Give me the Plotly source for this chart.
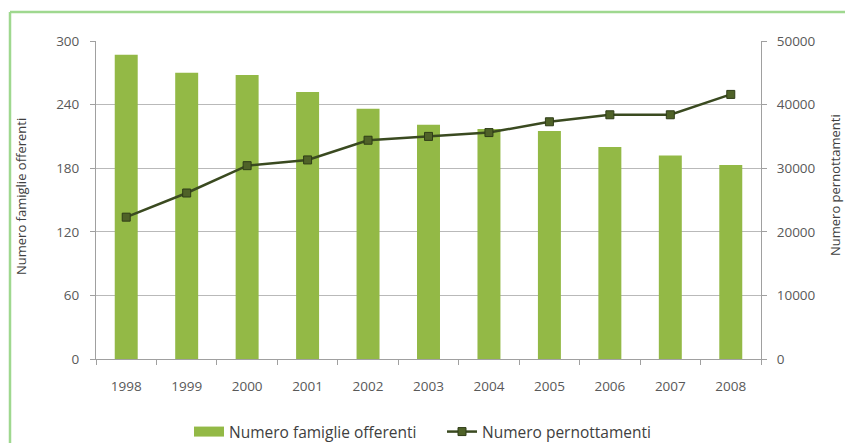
import plotly.graph_objects as go

years = ["1998", "1999", "2000", "2001", "2002", "2003", "2004", "2005", "2006", "2007", "2008"]
famiglie = [287, 270, 268, 252, 236, 221, 217, 215, 200, 192, 183]
pernottamenti = [22300, 26100, 30400, 31300, 34400, 35000, 35600, 37300, 38400, 38400, 41600]
left_title = "Numero famiglie offerenti"
right_title = "Numero pernottamenti"

FONT = "'Open Sans', sans-serif"
TICKC = "#595959"
GRID = "#b9b9b9"
BAR = "#93b946"

fig = go.Figure()
fig.add_trace(go.Bar(
    x=years, y=famiglie, name=left_title, showlegend=False,
    marker=dict(color=BAR, line=dict(width=0)),
    width=0.38, yaxis="y",
))
# legend-only entry drawn as a wide block like the original legend key
fig.add_trace(go.Scatter(
    x=[None], y=[None], name=left_title, mode="lines",
    line=dict(color=BAR, width=10), yaxis="y",
))
fig.add_trace(go.Scatter(
    x=years, y=pernottamenti, name=right_title,
    mode="lines+markers", yaxis="y2",
    line=dict(color="#3a4a20", width=2.5),
    marker=dict(symbol="square", size=8, color="#4f6228", line=dict(color="#2f3d18", width=1)),
))

OFF = 8  # default page body margin
W, H = 853 - OFF, 443 - OFF
# plot area in page pixels: x 96..761, y 41..359
L, T = 96 - OFF, 41 - OFF
R, B = W - (761 - OFF), H - (359 - OFF)
pw, ph = W - L - R, H - T - B

def px2x(px):
    return (px - OFF - L) / pw

def py2y(py):
    return (H - B - (py - OFF)) / ph

fig.update_layout(
    width=W, height=H,
    margin=dict(l=L, r=R, t=T, b=B, autoexpand=False),
    paper_bgcolor="white", plot_bgcolor="white",
    font=dict(family=FONT, size=13, color=TICKC),
    showlegend=True,
    legend=dict(orientation="h", x=px2x(189), xanchor="left", y=py2y(432), yanchor="middle",
                font=dict(size=15.5, color="#404040"), itemwidth=30, entrywidth=208,
                bgcolor="rgba(0,0,0,0)"),
    xaxis=dict(
        type="category", tickson="boundaries", ticks="outside", ticklen=5, tickcolor="#a0a0a0",
        showline=True, linecolor="#a0a0a0", linewidth=1, showgrid=False, automargin=False,
        tickfont=dict(size=13.5, color=TICKC), range=[-0.5, 10.5], ticklabelstandoff=15,
    ),
    yaxis=dict(
        range=[0, 300], dtick=60, tick0=0, showgrid=True, gridcolor=GRID, gridwidth=1,
        showline=True, linecolor="#a0a0a0", linewidth=1, ticks="outside", ticklen=5,
        tickcolor="#a0a0a0", zeroline=False, automargin=False, ticklabelstandoff=8,
        tickfont=dict(size=13.5, color=TICKC),
    ),
    yaxis2=dict(
        range=[0, 50000], dtick=10000, tick0=0, overlaying="y", side="right", showgrid=False,
        showline=True, linecolor="#a0a0a0", linewidth=1, ticks="outside", ticklen=5,
        tickcolor="#a0a0a0", zeroline=False, automargin=False, tickformat="d", ticklabelstandoff=7,
        tickfont=dict(size=13.5, color=TICKC),
    ),
    annotations=[
        dict(text=left_title, textangle=-90, xref="paper", yref="paper", x=px2x(21), y=py2y(197),
             xanchor="center", yanchor="middle", showarrow=False, font=dict(size=13, color="#404040")),
        dict(text=right_title, textangle=-90, xref="paper", yref="paper", x=px2x(835), y=py2y(185),
             xanchor="center", yanchor="middle", showarrow=False, font=dict(size=13, color="#404040")),
    ],
    shapes=[
        dict(type="line", xref="paper", yref="paper", x0=px2x(10), x1=px2x(870), y0=py2y(12), y1=py2y(12),
             line=dict(color="#9fd88f", width=2.5)),
        dict(type="line", xref="paper", yref="paper", x0=px2x(10), x1=px2x(10), y0=py2y(12), y1=py2y(460),
             line=dict(color="#9fd88f", width=2.5)),
    ],
)

fig.write_html("out.html")
